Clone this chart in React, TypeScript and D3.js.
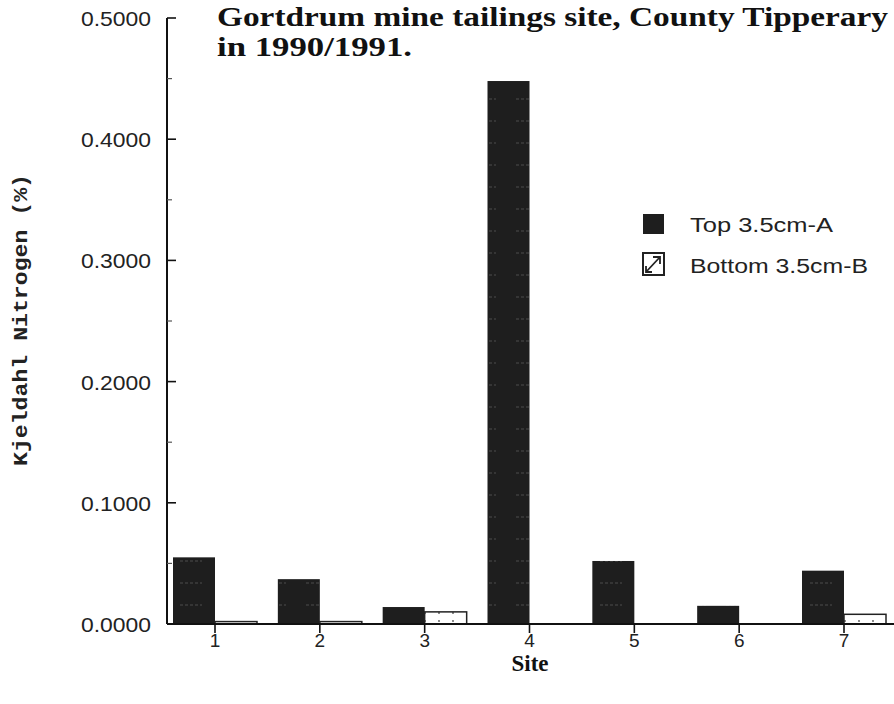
import React from "react";
import * as d3 from "d3";

const sites = ["1", "2", "3", "4", "5", "6", "7"];
const topValues = [0.055, 0.037, 0.014, 0.448, 0.052, 0.015, 0.044];
const bottomValues = [0.002, 0.002, 0.01, 0, 0, 0, 0.008];
const yTicks = [0, 0.1, 0.2, 0.3, 0.4, 0.5];
const yMinorTicks = [0.05, 0.15, 0.25, 0.35, 0.45];
const seriesNames = ["Top 3.5cm-A", "Bottom 3.5cm-B"];
const titleLines = ["Gortdrum mine tailings site, County Tipperary", "in 1990/1991."];

const W = 894;
const H = 704;
const axisX = 167;

export default function App() {
  const x = d3.scalePoint<string>().domain(sites).range([215, 844]);
  const y = d3.scaleLinear().domain([0, 0.5]).range([624, 18]);
  const barW = 42;
  const sans = "'Liberation Sans', Arial, sans-serif";
  const serif = "'Liberation Serif', 'Times New Roman', serif";
  const mono = "'Liberation Mono', 'Courier New', monospace";

  return (
    <svg width={W} height={H} style={{ position: "absolute", left: 0, top: 0, background: "#fff" }}>
      <defs>
        <pattern id="dots" width="14" height="8" patternUnits="userSpaceOnUse">
          <rect width="14" height="8" fill="#fff" />
          <circle cx="5" cy="5" r="0.9" fill="#555" />
        </pattern>
        <pattern id="darkTex" width="42" height="22" patternUnits="userSpaceOnUse">
          <rect width="42" height="22" fill="#1e1e1e" />
          <line x1="12" x2="34" y1="11" y2="11" stroke="#6a6a6a" strokeWidth="1" strokeDasharray="3 2" opacity="0.6" />
        </pattern>
      </defs>

      {/* Title */}
      <text x={217} y={26} fontFamily={serif} fontWeight="bold" fontSize={28} fill="#111"
        textLength={671} lengthAdjust="spacingAndGlyphs">{titleLines[0]}</text>
      <text x={217} y={56} fontFamily={serif} fontWeight="bold" fontSize={28} fill="#111"
        textLength={195} lengthAdjust="spacingAndGlyphs">{titleLines[1]}</text>

      {/* Bars */}
      {sites.map((s, i) => (
        <g key={s}>
          <rect x={(x(s) as number) - barW} y={y(topValues[i])} width={barW}
            height={y(0) - y(topValues[i])} fill="url(#darkTex)" />
          {bottomValues[i] > 0 && (
            <rect x={(x(s) as number)} y={y(bottomValues[i])} width={barW}
              height={y(0) - y(bottomValues[i])} fill="url(#dots)" stroke="#222" strokeWidth={1.5} />
          )}
        </g>
      ))}

      {/* Y axis */}
      <line x1={axisX} x2={axisX} y1={y(0.5)} y2={y(0)} stroke="#111" strokeWidth={2} />
      {yTicks.map((t) => (
        <g key={t}>
          <line x1={axisX} x2={axisX + 9} y1={y(t)} y2={y(t)} stroke="#111" strokeWidth={1.6} />
          <text x={151} y={y(t) + 8} textAnchor="end" fontFamily={sans} fontSize={21} fill="#222"
            textLength={70} lengthAdjust="spacingAndGlyphs">
            {d3.format(".4f")(t)}
          </text>
        </g>
      ))}
      {yMinorTicks.map((t) => (
        <line key={t} x1={axisX} x2={axisX + 5} y1={y(t)} y2={y(t)} stroke="#555" strokeWidth={1.2} />
      ))}

      {/* X axis */}
      <line x1={axisX} x2={W} y1={y(0)} y2={y(0)} stroke="#111" strokeWidth={2} />
      {sites.map((s) => (
        <g key={s}>
          <line x1={x(s) as number} x2={x(s) as number} y1={y(0)} y2={y(0) + 9} stroke="#111" strokeWidth={1.6} />
          <text x={x(s) as number} y={647} textAnchor="middle" fontFamily={sans} fontSize={19} fill="#222">{s}</text>
        </g>
      ))}
      <text x={530} y={671} textAnchor="middle" fontFamily={serif} fontWeight="bold" fontSize={23} fill="#111">Site</text>

      {/* Y title */}
      <text transform={`translate(27,320) rotate(-90)`} textAnchor="middle" fontFamily={mono}
        fontWeight="bold" fontSize={21} fill="#222" textLength={292} lengthAdjust="spacingAndGlyphs">
        Kjeldahl Nitrogen (%)
      </text>

      {/* Legend */}
      <rect x={643} y={214} width={21} height={20} fill="#1e1e1e" />
      <text x={690} y={232} fontFamily={sans} fontSize={20} fill="#222"
        textLength={143} lengthAdjust="spacingAndGlyphs">{seriesNames[0]}</text>
      <rect x={643} y={253} width={21} height={22} fill="#fff" stroke="#222" strokeWidth={2} />
      <path d="M646,272 L660,257 M653,257 L660,257 L660,264 M646,266 L646,272 L652,272" fill="none" stroke="#222" strokeWidth={1.8} />
      <text x={690} y={273} fontFamily={sans} fontSize={20} fill="#222"
        textLength={178} lengthAdjust="spacingAndGlyphs">{seriesNames[1]}</text>
    </svg>
  );
}
